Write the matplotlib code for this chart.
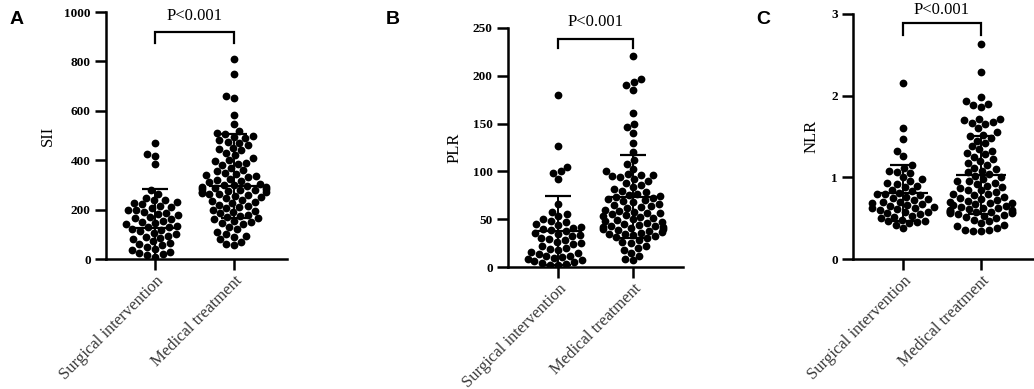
import numpy as np
import matplotlib
matplotlib.use("Agg")
import matplotlib.pyplot as plt
import seaborn as sns

# Groups
groups = ["Surgical intervention", "Medical treatment"]

# Panel A - SII
sii_surg = [468, 425, 418, 383, 278, 265, 248, 240, 238, 232, 228, 222, 215, 210, 205,
            200, 198, 192, 188, 182, 178, 170, 165, 160, 155, 150, 145, 140, 135, 130,
            128, 122, 118, 112, 105, 100, 95, 90, 85, 80, 72, 65, 60, 55, 48, 42, 38,
            30, 25, 20, 15, 10]
sii_med = [808, 750, 660, 650, 585, 545, 520, 510, 505, 500, 495, 490, 480, 475, 470,
           460, 450, 445, 440, 430, 420, 410, 400, 395, 390, 385, 380, 370, 360, 355,
           350, 345, 340, 335, 330, 325, 320, 315, 310, 305, 300, 298, 295, 292, 290,
           288, 285, 282, 280, 278, 275, 272, 270, 268, 265, 262, 260, 255, 250, 245,
           240, 235, 230, 225, 220, 215, 210, 205, 200, 195, 190, 185, 180, 175, 170,
           165, 160, 155, 150, 145, 140, 130, 120, 110, 100, 95, 90, 80, 70, 60, 55]

# Panel B - PLR
plr_surg = [180, 127, 105, 100, 98, 92, 66, 58, 55, 53, 50, 48, 47, 45, 44, 42, 41, 40,
            39, 38, 36, 35, 33, 32, 30, 29, 28, 26, 25, 24, 22, 20, 19, 18, 16, 15, 14,
            12, 11, 10, 9, 8, 7, 6, 5, 4, 3, 2, 2]
plr_med = [221, 197, 193, 190, 185, 161, 150, 146, 140, 130, 120, 112, 108, 103, 100,
           97, 96, 96, 95, 94, 92, 90, 88, 86, 84, 82, 80, 78, 76, 75, 74, 73, 72, 71,
           70, 69, 68, 66, 65, 64, 63, 62, 60, 59, 58, 57, 56, 55, 54, 53, 52, 51, 50,
           49, 48, 47, 46, 45, 44, 43, 43, 42, 42, 41, 40, 40, 39, 38, 37, 36, 35, 34,
           33, 32, 31, 30, 28, 26, 25, 22, 20, 18, 15, 12, 8, 7]

# Panel C - NLR
nlr_surg = [2.16, 1.61, 1.47, 1.32, 1.26, 1.15, 1.12, 1.08, 1.07, 1.05, 1.00, 0.98, 0.95,
            0.93, 0.92, 0.90, 0.88, 0.85, 0.83, 0.81, 0.80, 0.79, 0.78, 0.76, 0.75, 0.73,
            0.72, 0.70, 0.70, 0.68, 0.67, 0.66, 0.65, 0.64, 0.63, 0.62, 0.61, 0.60, 0.58,
            0.57, 0.56, 0.55, 0.53, 0.52, 0.50, 0.48, 0.47, 0.46, 0.45, 0.44, 0.42, 0.38]
nlr_med = [2.63, 2.29, 1.98, 1.93, 1.90, 1.88, 1.86, 1.72, 1.71, 1.70, 1.68, 1.66, 1.65,
           1.60, 1.55, 1.52, 1.50, 1.48, 1.45, 1.42, 1.38, 1.35, 1.32, 1.30, 1.28, 1.25,
           1.22, 1.20, 1.18, 1.15, 1.12, 1.10, 1.08, 1.06, 1.04, 1.02, 1.00, 0.98, 0.96,
           0.95, 0.93, 0.92, 0.90, 0.88, 0.87, 0.85, 0.84, 0.82, 0.80, 0.79, 0.78, 0.76,
           0.75, 0.74, 0.72, 0.71, 0.70, 0.69, 0.68, 0.67, 0.66, 0.65, 0.64, 0.63, 0.62,
           0.61, 0.60, 0.60, 0.59, 0.58, 0.58, 0.57, 0.57, 0.56, 0.56, 0.55, 0.54, 0.53,
           0.52, 0.50, 0.48, 0.46, 0.44, 0.42, 0.40, 0.38, 0.36, 0.35, 0.34, 0.34]

# center line and error bar ends
sii_mid, sii_lo, sii_hi = [125, 295], [-30, 168], [283, 506]
plr_mid, plr_lo, plr_hi = [38, 73], [2, 30], [74, 117]
nlr_mid, nlr_lo, nlr_hi = [0.81, 1.03], [0.47, 0.55], [1.15, 1.51]

yticks_a = [0, 200, 400, 600, 800, 1000]
yticks_b = [0, 50, 100, 150, 200, 250]
yticks_c = [0, 1, 2, 3]

serif = "Liberation Serif"

fig = plt.figure(figsize=(10.34, 3.89), dpi=100)
W, H = 1034, 389


def make_ax(left, right, y0, ytop):
    return fig.add_axes([left / W, (H - y0) / H, (right - left) / W, (y0 - ytop) / H])


panels = [
    # letter, data, mids, los, his, ticks, ylabel, axes px, xlim, bracket, letter pos, ylabel x
    ("A", (sii_surg, sii_med), sii_mid, sii_lo, sii_hi, yticks_a, "SII",
     (106, 287, 259, 12), (-0.62, 1.67), (919, 874, 985), (17, 20), 48),
    ("B", (plr_surg, plr_med), plr_mid, plr_lo, plr_hi, yticks_b, "PLR",
     (508, 683, 267, 28), (-0.67, 1.67), (238, 229, 256), (393, 20), 455),
    ("C", (nlr_surg, nlr_med), nlr_mid, nlr_lo, nlr_hi, yticks_c, "NLR",
     (853, 1034, 259, 14), (-0.64, 1.68), (2.89, 2.74, 3.055), (763, 20), 812),
]

for letter, data, mids, los, his, ticks, ylab, box, xlim, br, lpos, ylx in panels:
    ax = make_ax(*box)
    xs = []
    ys = []
    for g, vals in zip(groups, data):
        xs += [g] * len(vals)
        ys += list(vals)
    sns.swarmplot(x=xs, y=ys, order=groups, ax=ax, color="black", size=5.6,
                  linewidth=0, zorder=2, warn_thresh=1.0)
    ax.set_xlim(*xlim)
    ax.set_ylim(ticks[0], ticks[-1])

    for i in range(2):
        ax.hlines(mids[i], i - 0.32, i + 0.32, color="black", lw=1.6, zorder=4)
        ax.vlines(i, los[i], his[i], color="black", lw=1.4, zorder=4)
        ax.hlines([los[i], his[i]], i - 0.17, i + 0.17, color="black", lw=1.6, zorder=4)

    # significance bracket
    ax.plot([0, 0, 1, 1], [br[1], br[0], br[0], br[1]], color="black", lw=1.6,
            clip_on=False, solid_joinstyle="miter")
    ax.text(0.5, br[2], "P<0.001", ha="center", va="center", fontsize=12,
            family=serif, clip_on=False)

    for s in ["top", "right"]:
        ax.spines[s].set_visible(False)
    for s in ["left", "bottom"]:
        ax.spines[s].set_linewidth(1.8)
    ax.set_yticks(ticks)
    ax.set_yticklabels([str(t) for t in ticks], fontsize=9.5, fontweight="bold", family=serif)
    ax.set_xticks([0, 1])
    ax.set_xticklabels(groups, rotation=45, ha="right", rotation_mode="anchor",
                       fontsize=12, family=serif, color="#3a3a3a")
    ax.tick_params(axis="both", length=8, width=1.8, color="black")
    ax.tick_params(axis="y", pad=3)
    ax.tick_params(axis="x", pad=2)
    ax.set_ylabel("")
    fig.text(ylx / W, 1 - ((box[2] + box[3]) / 2) / H, ylab, rotation=90,
             ha="center", va="center", fontsize=12, family=serif)
    fig.text(lpos[0] / W, 1 - lpos[1] / H, letter, ha="center", va="center",
             fontsize=14, fontweight="bold", family="Liberation Sans")

fig.savefig("out.png", dpi=100)
